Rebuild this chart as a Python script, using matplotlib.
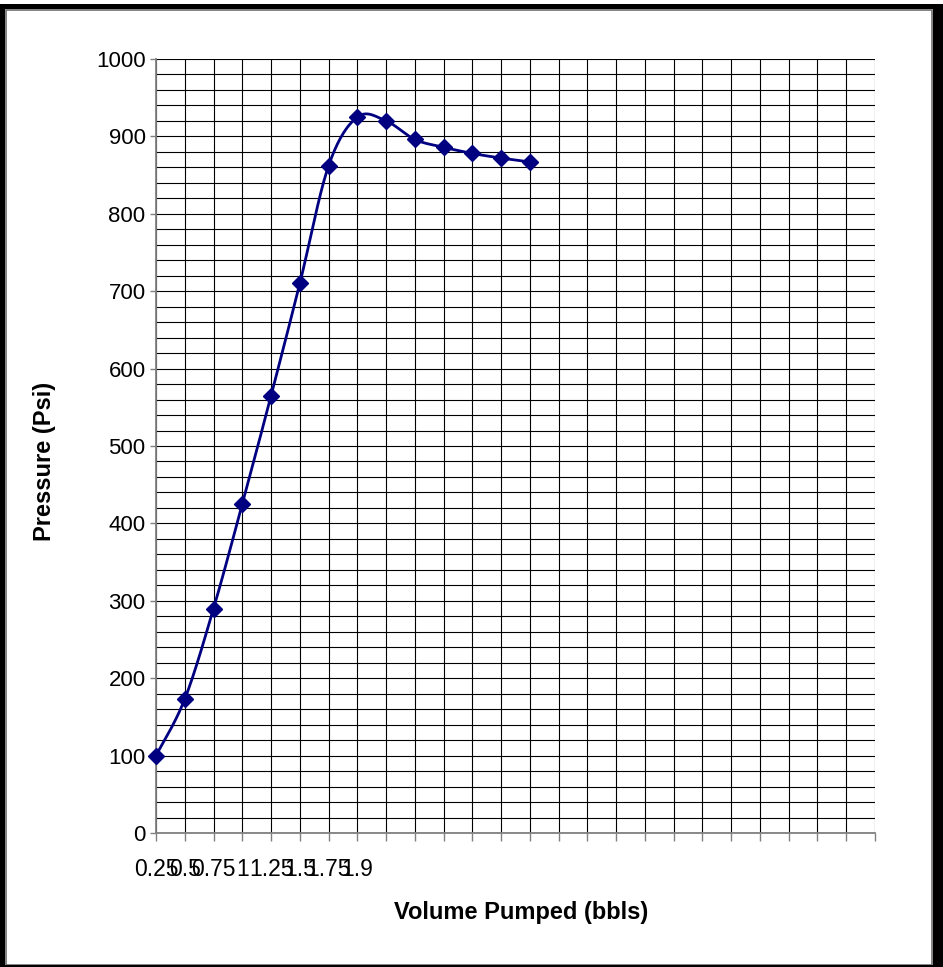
import numpy as np
import matplotlib
matplotlib.use("Agg")
import matplotlib.pyplot as plt
from matplotlib.patches import Rectangle
from matplotlib.ticker import MultipleLocator, FixedLocator

plt.rcParams["font.family"] = ["Liberation Sans", "DejaVu Sans"]

# Volume pumped (category labels) and recorded pressure readings
volume_labels = ["0.25", "0.5", "0.75", "1", "1.25", "1.5", "1.75", "1.9"]
pressure_psi = [100, 173, 290, 425, 565, 710, 862, 925, 920, 896, 886, 878, 872, 867]
n_categories = 26  # category slots on the horizontal axis


def smooth_curve(xs, ys, steps=30):
    """Catmull-Rom style smoothing through every point."""
    pts = np.column_stack([xs, ys]).astype(float)
    padded = np.vstack([pts[0], pts, pts[-1]])
    out = []
    t = np.linspace(0, 1, steps)[:, None]
    for i in range(1, len(padded) - 2):
        p0, p1, p2, p3 = padded[i - 1], padded[i], padded[i + 1], padded[i + 2]
        c1 = p1 + (p2 - p0) / 6.0
        c2 = p2 - (p3 - p1) / 6.0
        seg = ((1 - t) ** 3) * p1 + 3 * ((1 - t) ** 2) * t * c1 \
            + 3 * (1 - t) * t ** 2 * c2 + t ** 3 * p2
        out.append(seg if i == 1 else seg[1:])
    seg = np.vstack(out)
    return seg[:, 0], seg[:, 1]


W, H = 943, 967
fig = plt.figure(figsize=(W / 100, H / 100), dpi=100)
fig.patch.set_facecolor("white")

# Outer frame
def px_rect(x0, y0, x1, y1, **kw):
    fig.patches.append(Rectangle((x0 / W, 1 - y1 / H), (x1 - x0) / W, (y1 - y0) / H,
                                 transform=fig.transFigure, figure=fig, **kw))

px_rect(5.5, 9.5, 931.5, 964.5, fill=False, edgecolor="#6e6e6e", linewidth=1.2)
px_rect(0, 4, W, 9, facecolor="black", edgecolor="none")
px_rect(0, 4, 5, H, facecolor="black", edgecolor="none")
px_rect(933, 4, W, H, facecolor="black", edgecolor="none")
px_rect(0, 965, W, H, facecolor="black", edgecolor="none")

ax = fig.add_axes([156 / W, 1 - 833 / H, (875 - 156) / W, (833 - 59) / H])
ax.set_facecolor("white")

x = np.arange(len(pressure_psi))
sx, sy = smooth_curve(x, pressure_psi)
ax.plot(sx, sy, color="#000080", linewidth=2.0, zorder=3, clip_on=False)
ax.plot(x, pressure_psi, linestyle="none", marker="D", markersize=8.5,
        color="#000080", zorder=4, clip_on=False)

ax.set_xlim(0, n_categories - 1)
ax.set_ylim(0, 1000)

ax.xaxis.set_major_locator(FixedLocator(np.arange(n_categories)))
ax.set_xticklabels(volume_labels + [""] * (n_categories - len(volume_labels)))
ax.yaxis.set_major_locator(MultipleLocator(100))
ax.yaxis.set_minor_locator(MultipleLocator(20))

ax.grid(True, which="major", axis="both", color="#000000", linewidth=0.8, zorder=1)
ax.grid(True, which="minor", axis="y", color="#000000", linewidth=0.8, zorder=1)
ax.set_axisbelow(True)

for side in ("top", "right"):
    ax.spines[side].set_visible(False)
for side in ("left", "bottom"):
    ax.spines[side].set_color("#808080")
    ax.spines[side].set_linewidth(1.3)

ax.tick_params(axis="x", which="major", length=6, width=1, color="#808080",
               labelsize=16.5, pad=12, direction="out")
ax.tick_params(axis="y", which="major", length=4.5, width=1, color="#808080",
               labelsize=16, pad=3, direction="out")
ax.tick_params(axis="y", which="minor", length=0)

fig.text(45 / W, 1 - 461 / H, "Pressure (Psi)", rotation=90, ha="center",
         va="center", fontsize=17, fontweight="bold")
fig.text(521 / W, 1 - 912 / H, "Volume Pumped (bbls)", ha="center",
         va="center", fontsize=17, fontweight="bold")

fig.savefig("out.png", dpi=100)
